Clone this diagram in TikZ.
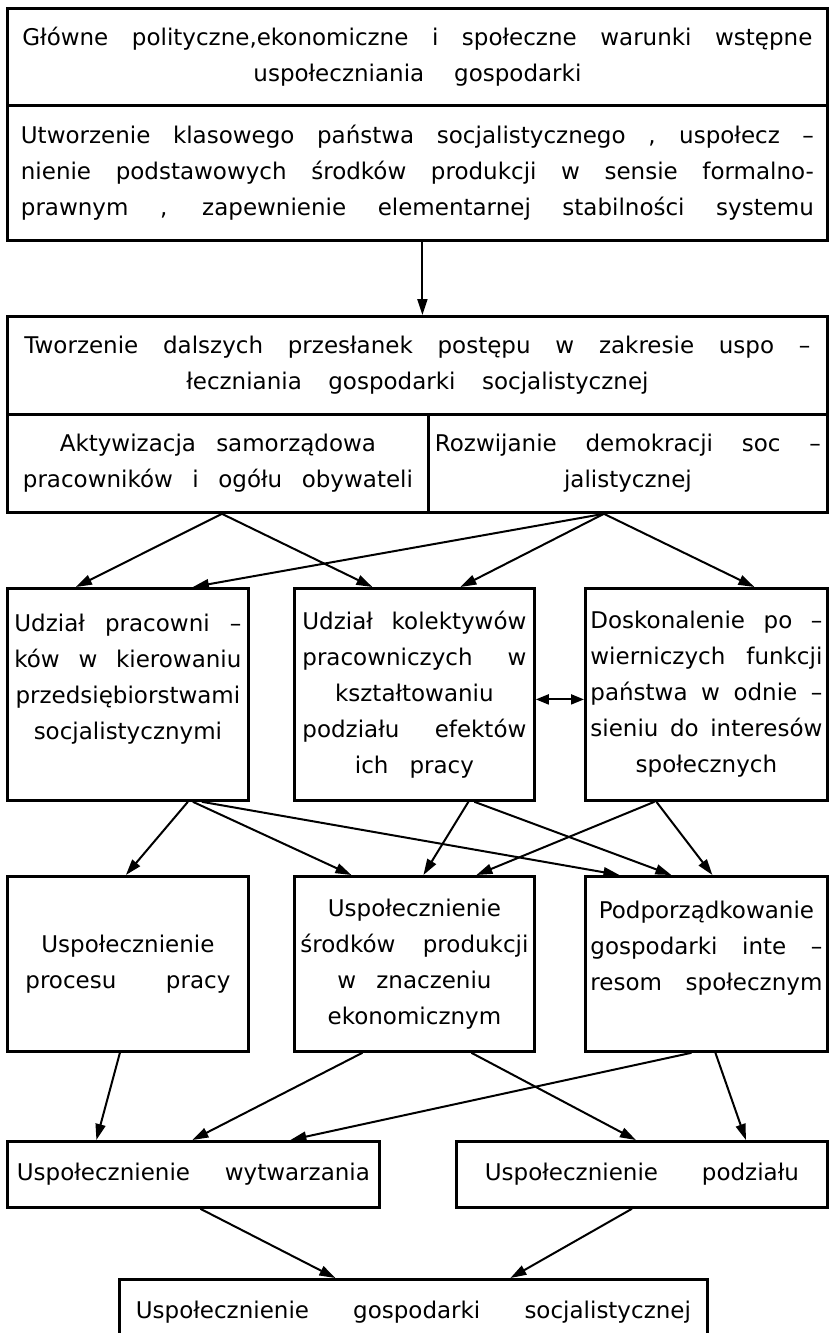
\documentclass[tikz,border=0pt]{standalone}
\usepackage{fontspec}
\setmainfont{DejaVu Sans}
\usetikzlibrary{arrows.meta}
\newcommand{\fl}[1]{\makebox[\hsize][s]{#1}}
\newcommand{\widesp}{\spaceskip=0.8em plus 0.1em minus 0.3em\relax}
\tikzset{
  box/.style={draw, line width=2.8pt, anchor=north west, inner sep=0pt, align=center,
    execute at begin node=\widesp},
  arr/.style={-{Triangle[length=16pt,width=10pt]}, line width=2pt},
}
\begin{document}
\begin{tikzpicture}[x=1pt, y=-1pt, font=\fontsize{23}{36}\selectfont]
  \useasboundingbox (0,0) rectangle (832,1333);
  \clip (0,0) rectangle (832,1333);
  % Warunki wstępne
  \node[box, minimum width=820pt, minimum height=97pt, text width=790pt] (glow) at (6,7) {\fl{Główne polityczne,ekonomiczne i społeczne warunki wstępne}\\ uspołeczniania gospodarki};
  \node[box, minimum width=820pt, minimum height=135pt, text width=793pt] (utw) at (6,104) {\fl{Utworzenie klasowego państwa socjalistycznego , uspołecz –}\\ \fl{nienie podstawowych środków produkcji w sensie formalno-}\\ \fl{prawnym , zapewnienie elementarnej stabilności systemu}};
  % Dalsze przesłanki
  \node[box, minimum width=820pt, minimum height=98pt, text width=786pt] (tworz) at (6,315) {\fl{Tworzenie dalszych przesłanek postępu w zakresie uspo –}\\ łeczniania gospodarki socjalistycznej};
  \node[box, minimum width=421pt, minimum height=98pt, text width=390pt] (akt) at (6,413) {Aktywizacja samorządowa\\ \fl{pracowników i ogółu obywateli}};
  \node[box, minimum width=399pt, minimum height=98pt, text width=386pt] (roz) at (427,413) {\fl{Rozwijanie demokracji soc –}\\ jalistycznej};
  % Pierwszy rząd
  \node[box, minimum width=241pt, minimum height=212pt, text width=227pt] (udz) at (6,587) {\fl{Udział pracowni –}\\ \fl{ków w kierowaniu}\\ przedsiębiorstwami\\ socjalistycznymi\\ \mbox{}};
  \node[box, minimum width=240pt, minimum height=212pt, text width=224pt] (kol) at (293,587) {\fl{Udział kolektywów}\\ \fl{pracowniczych w}\\ kształtowaniu\\ \fl{podziału efektów}\\ ich pracy};
  \node[box, minimum width=242pt, minimum height=212pt, text width=232pt] (dosk) at (584,587) {\fl{Doskonalenie po –}\\ \fl{wierniczych funkcji}\\ \fl{państwa w odnie –}\\ \fl{sieniu do interesów}\\ społecznych};
  % Drugi rząd
  \node[box, minimum width=241pt, minimum height=175pt, text width=205pt] (proc) at (6,875) {Uspołecznienie\\ \fl{procesu pracy}};
  \node[box, minimum width=240pt, minimum height=175pt, text width=228pt] (srod) at (293,875) {Uspołecznienie\\ \fl{środków produkcji}\\ w znaczeniu\\ ekonomicznym};
  \node[box, minimum width=242pt, minimum height=175pt, text width=232pt] (podp) at (584,875) {Podporządkowanie\\ \fl{gospodarki inte –}\\ \fl{resom społecznym}\\ \mbox{}};
  % Trzeci rząd
  \node[box, minimum width=372pt, minimum height=66pt, text width=353pt] (wyt) at (6,1140) {\fl{Uspołecznienie wytwarzania}};
  \node[box, minimum width=371pt, minimum height=66pt, text width=314pt] (podz) at (455,1140) {\fl{Uspołecznienie podziału}};
  \node[box, minimum width=588pt, minimum height=66pt, text width=555pt] (gosp) at (118,1278) {\fl{Uspołecznienie gospodarki socjalistycznej}};
  % Strzałki
  \draw[arr] ([xshift=5pt]utw.south) -- ([xshift=5pt]tworz.north);
  \draw[arr] ([xshift=4pt]akt.south) -- ([xshift=-52pt]udz.north);
  \draw[arr] ([xshift=4pt]akt.south) -- ([xshift=-42pt]kol.north);
  \draw[arr] ([xshift=-24pt]roz.south) -- ([xshift=65pt]udz.north);
  \draw[arr] ([xshift=-24pt]roz.south) -- ([xshift=46pt]kol.north);
  \draw[arr] ([xshift=-24pt]roz.south) -- ([xshift=48pt]dosk.north);
  \draw[{Triangle[length=13pt,width=10pt]}-{Triangle[length=13pt,width=10pt]}, line width=2pt] ([yshift=-5pt]kol.east) -- ([yshift=-5pt]dosk.west);
  \draw[arr] ([xshift=60pt]udz.south) -- ([xshift=-2pt]proc.north);
  \draw[arr] ([xshift=65pt]udz.south) -- ([xshift=-63pt]srod.north);
  \draw[arr] ([xshift=74pt]udz.south) -- ([xshift=-87pt]podp.north);
  \draw[arr] ([xshift=54pt]kol.south) -- ([xshift=9pt]srod.north);
  \draw[arr] ([xshift=60pt]kol.south) -- ([xshift=-35pt]podp.north);
  \draw[arr] ([xshift=-52pt]dosk.south) -- ([xshift=62pt]srod.north);
  \draw[arr] ([xshift=-50pt]dosk.south) -- ([xshift=6pt]podp.north);
  \draw[arr] ([xshift=-8pt]proc.south) -- ([xshift=-97pt]wyt.north);
  \draw[arr] ([xshift=-52pt]srod.south) -- ([xshift=-1pt]wyt.north);
  \draw[arr] ([xshift=-15pt]podp.south) -- ([xshift=97pt]wyt.north);
  \draw[arr] ([xshift=57pt]srod.south) -- ([xshift=-6pt]podz.north);
  \draw[arr] ([xshift=9pt]podp.south) -- ([xshift=104pt]podz.north);
  \draw[arr] ([xshift=7pt]wyt.south) -- ([xshift=-78pt]gosp.north);
  \draw[arr] ([xshift=-10pt]podz.south) -- ([xshift=97pt]gosp.north);
\end{tikzpicture}
\end{document}
